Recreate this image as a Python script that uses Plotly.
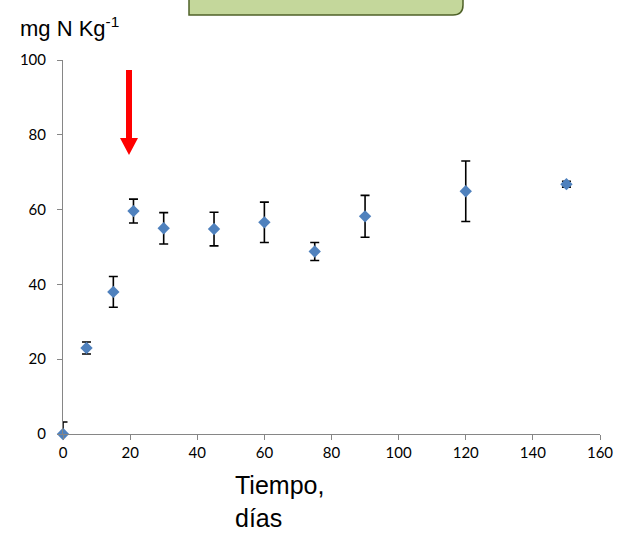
import plotly.graph_objects as go

dias = [0, 7, 15, 21, 30, 45, 60, 75, 90, 120, 150]
n_mg = [0, 23, 38, 59.6, 55, 54.8, 56.6, 48.8, 58.2, 64.9, 66.8]
err_sup = [3.2, 1.6, 4.1, 3.2, 4.2, 4.5, 5.4, 2.4, 5.6, 8.1, 0.8]
err_inf = [0, 1.6, 4.1, 3.2, 4.2, 4.5, 5.4, 2.4, 5.6, 8.1, 0.8]
x_ticks = [0, 20, 40, 60, 80, 100, 120, 140, 160]
y_ticks = [0, 20, 40, 60, 80, 100]

W, H = 617, 536
L, R, T, B = 63, 17, 60, 102
pw, ph = W - L - R, H - T - B

def px(x):
    return (x - L) / pw

def py(y):
    return (H - B - y) / ph

fig = go.Figure()
fig.add_trace(go.Scatter(
    x=dias, y=n_mg, mode="markers",
    marker=dict(symbol="diamond", size=9.5, color="#4F81BD"),
    error_y=dict(type="data", array=err_sup, arrayminus=err_inf,
                 color="black", thickness=1.6, width=4.5),
    cliponaxis=False, showlegend=False,
))

axis_common = dict(showgrid=False, zeroline=False, showline=True,
                   linecolor="#868686", linewidth=1, ticks="outside",
                   ticklen=5, tickcolor="#868686", automargin=False,
                   tickfont=dict(family="Lato, Liberation Sans", size=15, color="black"))
fig.update_xaxes(range=[0, 160], tickvals=x_ticks, **axis_common)
fig.update_yaxes(range=[0, 100], tickvals=y_ticks, ticklabelstandoff=8, **axis_common)

# green box at top (partially cut off)
x0, x1 = px(189), px(463)
y0, y1 = py(15), py(-20)
rx, ry = 10 / pw, 10 / ph
path = (f"M {x0},{y1} L {x0},{y0} L {x1 - rx},{y0} "
        f"Q {x1},{y0} {x1},{y0 + ry} L {x1},{y1} Z")
fig.add_shape(type="path", path=path, xref="paper", yref="paper",
              fillcolor="#C4D79B", line=dict(color="#4F6228", width=1.5))

# red arrow
cx = 129
ax_path = (f"M {px(cx-3)},{py(70)} L {px(cx+3)},{py(70)} L {px(cx+3)},{py(138)} "
           f"L {px(cx+9)},{py(138)} L {px(cx)},{py(155)} L {px(cx-9)},{py(138)} "
           f"L {px(cx-3)},{py(138)} Z")
fig.add_shape(type="path", path=ax_path, xref="paper", yref="paper",
              fillcolor="#FF0000", line=dict(width=0))

fig.add_annotation(text="mg N Kg<sup>-1</sup>", xref="paper", yref="paper",
                   x=px(18), y=py(27), xanchor="left", yanchor="middle",
                   showarrow=False,
                   font=dict(family="Liberation Sans, Arial", size=22, color="black"))
fig.add_annotation(text="Tiempo,<br>días", xref="paper", yref="paper",
                   x=px(233), y=py(469), xanchor="left", yanchor="top",
                   align="left", showarrow=False,
                   font=dict(family="Liberation Sans, Arial", size=25, color="black"))

fig.update_layout(width=W, height=H, margin=dict(l=L, r=R, t=T, b=B),
                  plot_bgcolor="white", paper_bgcolor="white")
fig.write_html("out.html", config={"displayModeBar": False},
               post_script="document.body.style.margin='0px';document.body.style.overflow='hidden';")
